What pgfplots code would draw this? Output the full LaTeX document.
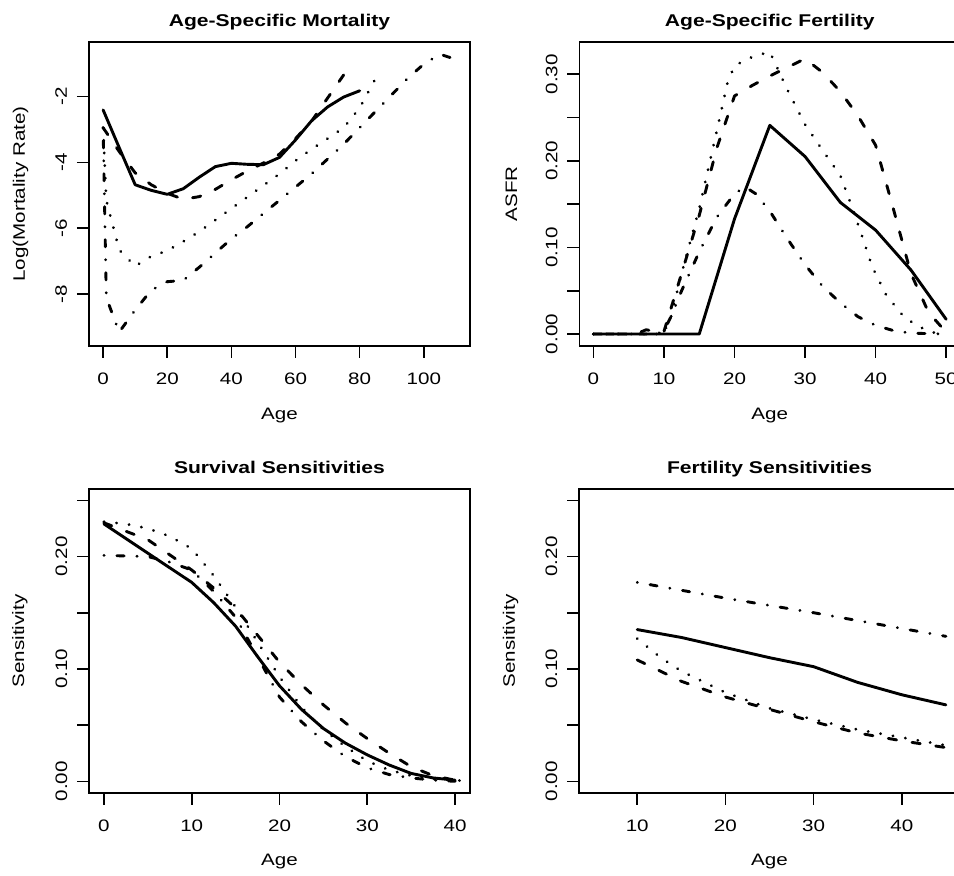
\documentclass[border=0pt]{standalone}
\usepackage{fontspec}
\setmainfont{Liberation Sans}[FakeStretch=1.24]
\usepackage{pgfplots}
\pgfplotsset{compat=1.18}

\pgfplotsset{
  panel/.style={
    scale only axis, width=190.5pt, height=152pt,
    axis line style={line width=0.8pt},
    tick align=outside, major tick length=6pt,
    every tick/.style={black, line width=0.8pt},
    xtick pos=bottom, ytick pos=left,
    /pgf/number format/assume math mode=true,
    title style={font=\fontsize{8.5}{10}\selectfont\bfseries, at={(0.5,1)}, anchor=base, yshift=1.6pt},
    xlabel style={at={(rel axis cs:0.5,-0.243)}, anchor=base},
    xticklabel style={anchor=base}, xticklabel shift=13.5pt,
    yticklabel style={rotate=90, anchor=base}, yticklabel shift=5pt,
    ylabel style={anchor=base},
  },
  solidl/.style={black, line width=1.45pt, line join=round, line cap=round},
  dashl/.style={black, line width=1.45pt, line join=round, line cap=round, dash pattern=on 4.2pt off 7.8pt},
  dotl/.style={black, line width=1.45pt, line join=round, line cap=round, dash pattern=on 0.1pt off 6.2pt},
  dotdashl/.style={black, line width=1.45pt, line join=round, line cap=round, dash pattern=on 0.1pt off 6.4pt on 3.6pt off 6.4pt},
}

\begin{document}
\begin{tikzpicture}[font=\fontsize{8.3}{10}\selectfont]
\useasboundingbox (0,0) rectangle (477pt,438pt);

% top left: mortality
\begin{axis}[panel, at={(44.5pt,265pt)}, anchor=south west,
    xmin=-4.4, xmax=114.4, ymin=-9.57, ymax=-0.35,
    xtick={0,20,40,60,80,100},
    ytick={-8,-6,-4,-2}, yticklabels={-8,-6,-4,-2},
    title={Age-Specific Mortality}, xlabel={Age}, ylabel={Log(Mortality Rate)},
    ylabel style={at={(rel axis cs:-0.168,0.5)}}]
\addplot[solidl] coordinates {(0,-2.41)(5,-3.55)(10,-4.68)(15,-4.85)(20,-4.97)(25,-4.80)(30,-4.45)(35,-4.13)(40,-4.03)(45,-4.06)(50,-4.07)(55,-3.85)(60,-3.32)(65,-2.74)(70,-2.32)(75,-2.02)(80,-1.83)};
\addplot[dashl] coordinates {(0,-2.95)(5,-3.67)(10,-4.32)(15,-4.68)(20,-4.94)(25,-5.12)(30,-5.04)(35,-4.82)(40,-4.53)(45,-4.26)(50,-4.02)(55,-3.75)(60,-3.28)(65,-2.75)(70,-2.05)(75,-1.35)};
\addplot[dotl] coordinates {(0,-2.95)(1,-5.15)(5,-6.65)(10,-7.15)(15,-6.85)(20,-6.68)(25,-6.40)(30,-6.10)(35,-5.75)(40,-5.40)(45,-5.05)(50,-4.70)(55,-4.35)(60,-3.95)(65,-3.60)(70,-3.28)(75,-2.95)(80,-2.35)(85,-1.45)};
\addplot[dotdashl] coordinates {(0,-2.95)(1,-8.10)(5,-9.15)(10,-8.48)(15,-7.88)(20,-7.62)(25,-7.58)(30,-7.18)(35,-6.75)(40,-6.32)(45,-5.95)(50,-5.55)(55,-5.15)(60,-4.75)(65,-4.35)(70,-3.90)(75,-3.45)(80,-2.95)(85,-2.45)(90,-1.95)(95,-1.45)(100,-1.02)(105,-0.72)(110,-0.88)};
\end{axis}

% top right: fertility
\begin{axis}[panel, at={(289.65pt,265pt)}, anchor=south west,
    xmin=-2, xmax=52, ymin=-0.0138, ymax=0.3373,
    xtick={0,10,20,30,40,50},
    ytick={0,0.05,0.1,0.15,0.2,0.25,0.3}, yticklabels={0.00,,0.10,,0.20,,0.30},
    title={Age-Specific Fertility}, xlabel={Age}, ylabel={ASFR},
    ylabel style={at={(rel axis cs:-0.163,0.5)}}]
\addplot[solidl] coordinates {(0,0)(15,0)(20,0.133)(25,0.241)(30,0.205)(35,0.152)(40,0.120)(45,0.074)(50,0.017)};
\addplot[dashl] coordinates {(0,0)(6,0)(7.5,0.005)(9,0.002)(10,0.003)(12.5,0.07)(15,0.137)(17.5,0.215)(20,0.275)(22.5,0.287)(25,0.298)(27.5,0.308)(30,0.318)(32.5,0.302)(35,0.28)(37.5,0.252)(40,0.218)(42.5,0.145)(45,0.07)(47.5,0.025)(50,0.002)};
\addplot[dotl] coordinates {(0,0)(9,0)(10,0.002)(11,0.02)(12.5,0.07)(15,0.145)(17.5,0.235)(19,0.29)(20,0.31)(22.5,0.32)(25,0.326)(27.5,0.282)(30,0.242)(32.5,0.212)(35,0.183)(36.5,0.15)(38,0.115)(39.5,0.078)(41.5,0.045)(44,0.02)(46,0.009)(48,0.002)(50,0)};
\addplot[dotdashl] coordinates {(0,0)(9,0)(10,0.004)(11,0.02)(12.5,0.05)(15,0.095)(17.5,0.135)(20,0.162)(21.5,0.17)(23,0.162)(25,0.142)(27.5,0.11)(30,0.08)(32.5,0.055)(35,0.036)(37.5,0.02)(40,0.01)(42.5,0.004)(45,0.001)(50,0)};
\end{axis}

% bottom left: survival sensitivities
\begin{axis}[panel, at={(44.5pt,41.5pt)}, anchor=south west,
    xmin=-1.7, xmax=41.7, ymin=-0.0104, ymax=0.2601,
    xtick={0,10,20,30,40},
    ytick={0,0.05,0.1,0.15,0.2,0.25}, yticklabels={0.00,,0.10,,0.20,},
    title={Survival Sensitivities}, xlabel={Age}, ylabel={Sensitivity},
    xlabel style={at={(rel axis cs:0.5,-0.24)}},
    ylabel style={at={(rel axis cs:-0.17,0.5)}}]
\addplot[solidl] coordinates {(0,0.229)(5,0.203)(10,0.177)(12.5,0.159)(15,0.138)(17.5,0.111)(20,0.085)(22.5,0.064)(25,0.047)(27.5,0.034)(30,0.0235)(32.5,0.0145)(35,0.007)(37.5,0.003)(40,0.001)};
\addplot[dashl] coordinates {(0,0.23)(5,0.215)(10,0.188)(12.5,0.172)(15,0.154)(17.5,0.13)(20,0.106)(22.5,0.086)(25,0.068)(27.5,0.052)(30,0.038)(32.5,0.025)(35,0.013)(37.5,0.005)(40,0.001)};
\addplot[dotl] coordinates {(0,0.231)(2.5,0.229)(5,0.225)(7.5,0.218)(10,0.207)(12.5,0.183)(15,0.155)(17.5,0.124)(20,0.093)(22.5,0.066)(25,0.046)(27.5,0.031)(30,0.018)(32.5,0.01)(35,0.005)(37.5,0.002)(40,0.001)(41.5,0)};
\addplot[dotdashl] coordinates {(0,0.201)(5,0.2)(7.5,0.195)(10,0.188)(12.5,0.169)(15,0.146)(17.5,0.111)(20,0.075)(22.5,0.053)(25,0.036)(27.5,0.022)(30,0.012)(32.5,0.006)(35,0.003)(37.5,0.001)(40,0)};
\end{axis}

% bottom right: fertility sensitivities
\begin{axis}[panel, at={(289.5pt,41.5pt)}, anchor=south west,
    xmin=3.4, xmax=46.6, ymin=-0.0104, ymax=0.2601,
    xtick={10,20,30,40},
    ytick={0,0.05,0.1,0.15,0.2,0.25}, yticklabels={0.00,,0.10,,0.20,},
    title={Fertility Sensitivities}, xlabel={Age}, ylabel={Sensitivity},
    xlabel style={at={(rel axis cs:0.5,-0.24)}},
    ylabel style={at={(rel axis cs:-0.168,0.5)}}]
\addplot[solidl] coordinates {(10,0.135)(15,0.128)(20,0.119)(25,0.110)(30,0.102)(35,0.088)(40,0.077)(45,0.068)};
\addplot[dashl] coordinates {(10,0.108)(15,0.089)(20,0.075)(25,0.064)(30,0.053)(35,0.043)(40,0.036)(45,0.030)};
\addplot[dotl] coordinates {(10,0.127)(12.5,0.111)(15,0.098)(20,0.079)(25,0.065)(30,0.055)(35,0.046)(40,0.039)(45,0.032)(46,0.030)};
\addplot[dotdashl] coordinates {(10,0.177)(20,0.163)(30,0.150)(40,0.136)(45,0.129)};
\end{axis}
\end{tikzpicture}
\end{document}
